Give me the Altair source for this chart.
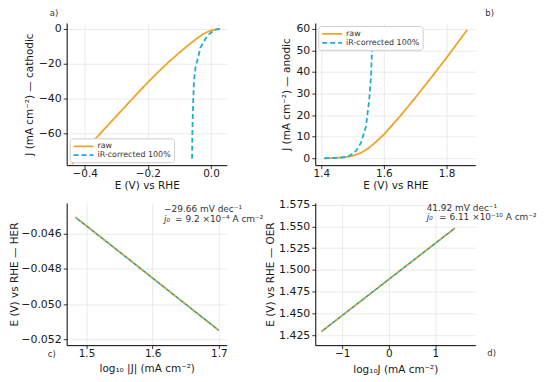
import altair as alt
import pandas as pd

# ---------------- data ----------------
series_names = ["raw", "iR-corrected 100%"]

# panel a (HER, cathodic)
a_raw_E = [0.028, 0.015, 0.003, -0.015, -0.030, -0.050, -0.075, -0.100, -0.133, -0.170, -0.200, -0.250, -0.300, -0.363, -0.440]
a_raw_J = [0.0, -0.25, -0.8, -2.0, -3.6, -6.2, -9.8, -13.6, -18.8, -25.2, -30.6, -40.2, -50.0, -62.3, -77.3]
a_ir_E = [0.028, 0.010, -0.012, -0.033, -0.049, -0.054, -0.057, -0.059, -0.060]
a_ir_J = [0.0, -0.7, -4.0, -10.7, -22.0, -30.0, -45.0, -60.0, -75.0]

# panel b (OER, anodic)
b_raw_E = [1.410, 1.450, 1.480, 1.500, 1.525, 1.550, 1.575, 1.600, 1.650, 1.700, 1.750, 1.800, 1.866]
b_raw_J = [0.0, 0.2, 0.6, 1.1, 2.4, 4.6, 7.6, 11.0, 19.2, 28.0, 37.2, 46.6, 59.5]
b_ir_E = [1.410, 1.450, 1.480, 1.490, 1.511, 1.527, 1.543, 1.553, 1.559, 1.562]
b_ir_J = [0.0, 0.2, 0.6, 1.1, 3.4, 7.2, 14.8, 27.0, 37.8, 50.0]

# panel c (HER Tafel)
c_logJ = [1.483, 1.600, 1.700]
c_E = [-0.04505, -0.04852, -0.05150]
c_text1 = "\u221229.66 mV dec\u207b\u00b9"
c_text2 = "= 9.2 \u00d710\u207b\u2074 A cm\u207b\u00b2"

# panel d (OER Tafel)
d_logJ = [-1.45, 0.00, 1.42]
d_E = [1.429, 1.4892, 1.548]
d_text1 = "41.92 mV dec\u207b\u00b9"
d_text2 = "= 6.11 \u00d710\u207b\u00b9\u2070 A cm\u207b\u00b2"

# ticks
a_xticks = [-0.4, -0.2, 0.0]
a_yticks = [0, -20, -40, -60]
b_xticks = [1.4, 1.6, 1.8]
b_yticks = [0, 10, 20, 30, 40, 50, 60]
c_xticks = [1.5, 1.6, 1.7]
c_yticks = [-0.046, -0.048, -0.050, -0.052]
d_xticks = [-1, 0, 1]
d_yticks = [1.425, 1.45, 1.475, 1.5, 1.525, 1.55, 1.575]

ORANGE = "#F0A32A"
BLUE = "#1FAADC"
TEAL = "#2A9D8F"
TXT = "#1a1a1a"
W, H = 161, 143


def long_df(e1, j1, e2, j2):
    rows = []
    for i, (e, j) in enumerate(zip(e1, j1)):
        rows.append({"E": e, "J": j, "series": series_names[0], "idx": i})
    for i, (e, j) in enumerate(zip(e2, j2)):
        rows.append({"E": e, "J": j, "series": series_names[1], "idx": i})
    return pd.DataFrame(rows)


common_axis = dict(grid=True, gridColor="#e6e6e6", gridWidth=0.8,
                   tickSize=3.5, tickColor="#000", tickWidth=0.8,
                   domainColor="#000", domainWidth=1,
                   labelColor=TXT, labelFlush=False,
                   titleColor=TXT, titleFontWeight="normal")


def xaxis(values, fmt, title, ty):
    return alt.Axis(values=values, format=fmt, title=title, labelPadding=0,
                    labelFontSize=10.5, titleFontSize=10.5,
                    titleX=W / 2, titleY=ty, titleAlign="center",
                    titleBaseline="middle", **common_axis)


def yaxis(values, fmt, title, tx):
    return alt.Axis(values=values, format=fmt, title=title, labelPadding=2,
                    labelFontSize=11, titleFontSize=10.5,
                    titleX=tx, titleY=H / 2, titleAngle=270, titleAlign="center",
                    titleBaseline="middle", **common_axis)


def label(txt, x, y, size=8.5, style="normal", align="left"):
    return alt.Chart(pd.DataFrame({"t": [txt]})).mark_text(
        fontSize=size, fontStyle=style, align=align, baseline="middle", color="#333"
    ).encode(x=alt.value(x), y=alt.value(y), text="t:N")


def legend(orient):
    return alt.Legend(title=None, orient=orient, offset=3, labelFontSize=8,
                      labelColor="#333", symbolType="M-1,0L4,0", symbolSize=64,
                      symbolStrokeWidth=1.8, rowPadding=0, padding=3,
                      labelOffset=15, fillColor="white", strokeColor="#cfcfcf",
                      cornerRadius=3)


def iv_panel(df, xdom, ydom, xax, yax, orient):
    lg = legend(orient)
    return alt.Chart(df).mark_line(clip=True, strokeWidth=1.8).encode(
        x=alt.X("E:Q", scale=alt.Scale(domain=xdom, nice=False, zero=False), axis=xax),
        y=alt.Y("J:Q", scale=alt.Scale(domain=ydom, nice=False, zero=False), axis=yax),
        color=alt.Color("series:N", scale=alt.Scale(domain=series_names, range=[ORANGE, BLUE]), legend=lg),
        strokeDash=alt.StrokeDash("series:N", scale=alt.Scale(domain=series_names, range=[[1, 0], [5, 3]]), legend=lg),
        order="idx:Q",
    )


def tafel_panel(xs, ys, xdom, ydom, xax, yax):
    df = pd.DataFrame({"x": xs, "y": ys})
    base = alt.Chart(df).encode(
        x=alt.X("x:Q", scale=alt.Scale(domain=xdom, nice=False, zero=False), axis=xax),
        y=alt.Y("y:Q", scale=alt.Scale(domain=ydom, nice=False, zero=False), axis=yax),
    )
    return [base.mark_line(color=TEAL, strokeWidth=1.6),
            base.mark_line(color=ORANGE, strokeWidth=1.6, strokeDash=[3, 3])]


dfa = long_df(a_raw_E, a_raw_J, a_ir_E, a_ir_J)
dfb = long_df(b_raw_E, b_raw_J, b_ir_E, b_ir_J)

pa = alt.layer(
    iv_panel(dfa, [-0.457, 0.05], [-78, 3.4],
             xaxis(a_xticks, ".1f", "E (V) vs RHE", 20.5),
             yaxis(a_yticks, "d", "J (mA cm\u207b\u00b2) \u2014 cathodic", -37),
             "bottom-left"),
    label("a)", -17, -10),
).properties(width=W, height=H)

pb = alt.layer(
    iv_panel(dfb, [1.381, 1.892], [-3.2, 62.7],
             xaxis(b_xticks, ".1f", "E (V) vs RHE", 20.5),
             yaxis(b_yticks, "d", "J (mA cm\u207b\u00b2) \u2014 anodic", -29),
             "top-left"),
    label("b)", 171, -10),
).properties(width=W, height=H)

pc = alt.layer(
    *tafel_panel(c_logJ, c_E, [1.47, 1.712], [-0.05234, -0.04425],
                 xaxis(c_xticks, ".1f", "log\u2081\u2080 |J| (mA cm\u207b\u00b2)", 23),
                 yaxis(c_yticks, ".3f", "E (V) vs RHE \u2014 HER", -52)),
    label(c_text1, 98, 6, 9),
    label("j\u2080", 98, 16.5, 9, "italic"),
    label(c_text2, 109, 16.5, 9),
    label("c)", -19, 152),
).properties(width=W, height=H)

pd_ = alt.layer(
    *tafel_panel(d_logJ, d_E, [-1.58, 1.86], [1.4135, 1.577],
                 xaxis(d_xticks, "d", "log\u2081\u2080J (mA cm\u207b\u00b2)", 25),
                 yaxis(d_yticks, ".3f", "E (V) vs RHE \u2014 OER", -45)),
    label(d_text1, 112, 5, 9),
    label("j\u2080", 112, 14.5, 9, "italic"),
    label(d_text2, 124.5, 14.5, 9),
    label("d)", 173, 151),
).properties(width=W, height=H)

chart = alt.concat(pa, pb, pc, pd_, columns=2, spacing={"row": 38, "column": 89}, bounds="flush").resolve_scale(
    color="independent", strokeDash="independent", x="independent", y="independent"
).properties(
    padding={"left": 2, "top": 0, "right": 5, "bottom": 5}
).configure(font="DejaVu Sans").configure_view(strokeWidth=0)

chart.save("out.html", embed_options={"renderer": "svg", "actions": False})
